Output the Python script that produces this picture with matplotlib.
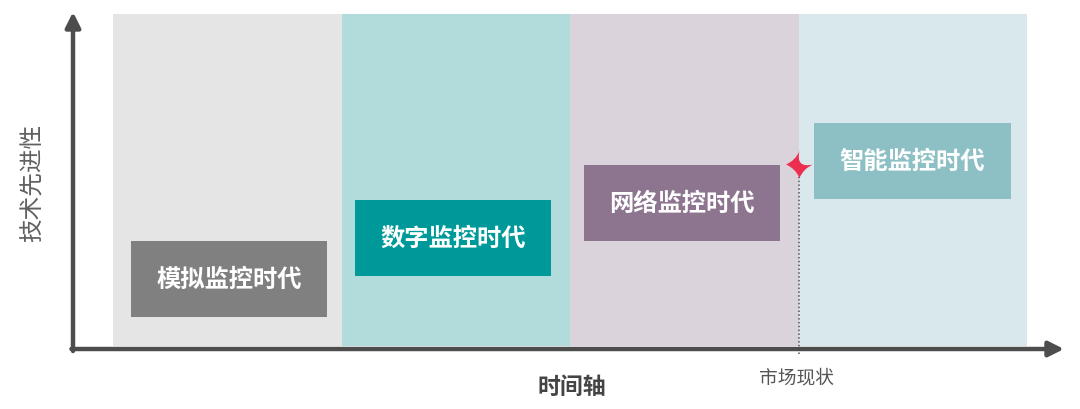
import matplotlib
matplotlib.use("Agg")
import matplotlib.pyplot as plt
from matplotlib.path import Path
import numpy as np

plt.rcParams['font.family'] = ['Noto Sans CJK SC', 'DejaVu Sans']

# ---- data ----
eras = ["模拟监控时代", "数字监控时代", "网络监控时代", "智能监控时代"]
tech_level = [70, 111, 146, 188]          # box centre heights (technology level)
band_colors = ["#e5e5e5", "#b2dbdc", "#dbd3dc", "#d9e8ec"]
box_colors = ["#808080", "#009999", "#8d7590", "#8dc0c4"]
market_now_x = 3.0
market_now_level = 185
x_label = "时间轴"
y_label = "技术先进性"
market_label = "市场现状"

# ---- layout ----
box_offset = [0.079, 0.061, 0.061, 0.070]   # box left inset within each band

W, H = 1080, 410
fig = plt.figure(figsize=(W / 100, H / 100), dpi=100)
ax = fig.add_axes([0, 0, 1, 1])
unit = 228.5
x0 = 113
ax.set_xlim(-x0 / unit, (W - x0) / unit)
ax.set_ylim(-60, 350)
ax.axis('off')

band_top, band_bot = 335, 3
for i, c in enumerate(band_colors):
    ax.bar(i + 0.5, band_top - band_bot, bottom=band_bot, width=1.0,
           color=c, linewidth=0, zorder=1)

box_w, box_h = 0.858, 76
for i, (name, lvl, c) in enumerate(zip(eras, tech_level, box_colors)):
    cx = i + box_offset[i] + box_w / 2
    ax.bar(cx, box_h, bottom=lvl - box_h / 2, width=box_w,
           color=c, linewidth=0, zorder=2)
    ax.text(cx, lvl, name, ha='center', va='center',
            color='white', fontsize=17.5, fontweight='bold', zorder=3)

# axes arrows
axis_color = "#4d4d4d"
ax_start = -40 / unit
ax.annotate('', xy=(ax_start, 337), xytext=(ax_start, -2),
            arrowprops=dict(arrowstyle='-|>,head_length=0.9,head_width=0.45',
                            lw=3.2, color=axis_color, shrinkA=0, shrinkB=0),
            zorder=4)
ax.annotate('', xy=((1064 - x0) / unit, 0), xytext=(ax_start - 0.007, 0),
            arrowprops=dict(arrowstyle='-|>,head_length=0.9,head_width=0.45',
                            lw=3.2, color=axis_color, shrinkA=0, shrinkB=0),
            zorder=4)

# market-now marker
ax.plot([market_now_x, market_now_x], [-5, market_now_level - 12],
        linestyle=(0, (1, 1.5)), color="#555555", lw=1.1, zorder=3)
t = np.linspace(0, 2 * np.pi, 5)[:-1] + np.pi / 2
verts, codes = [], []
for k, a in enumerate(t):
    p = (np.cos(a), np.sin(a))
    if k == 0:
        verts.append(p); codes.append(Path.MOVETO)
    nxt = t[(k + 1) % 4]
    mid = (a + nxt) / 2
    verts.append((0.42 * np.cos(mid), 0.42 * np.sin(mid))); codes.append(Path.CURVE3)
    verts.append((np.cos(nxt), np.sin(nxt))); codes.append(Path.CURVE3)
verts.append((0, 0)); codes.append(Path.CLOSEPOLY)
star = Path(verts, codes)
ax.plot([market_now_x], [market_now_level], marker=star, markersize=19.5,
        color="#ec2f50", markeredgewidth=0, zorder=5)

# labels
ax.text((572 - x0) / unit, -37, x_label, ha='center', va='center',
        fontsize=16.5, fontweight='bold', color="#444444")
ax.text((796 - x0) / unit, -28, market_label, ha='center', va='center',
        fontsize=13.5, color="#555555")
ax.text((33 - x0) / unit, 167, y_label, ha='center', va='center',
        rotation=90, fontsize=17, color="#606060")

fig.savefig("out.png", dpi=100)
